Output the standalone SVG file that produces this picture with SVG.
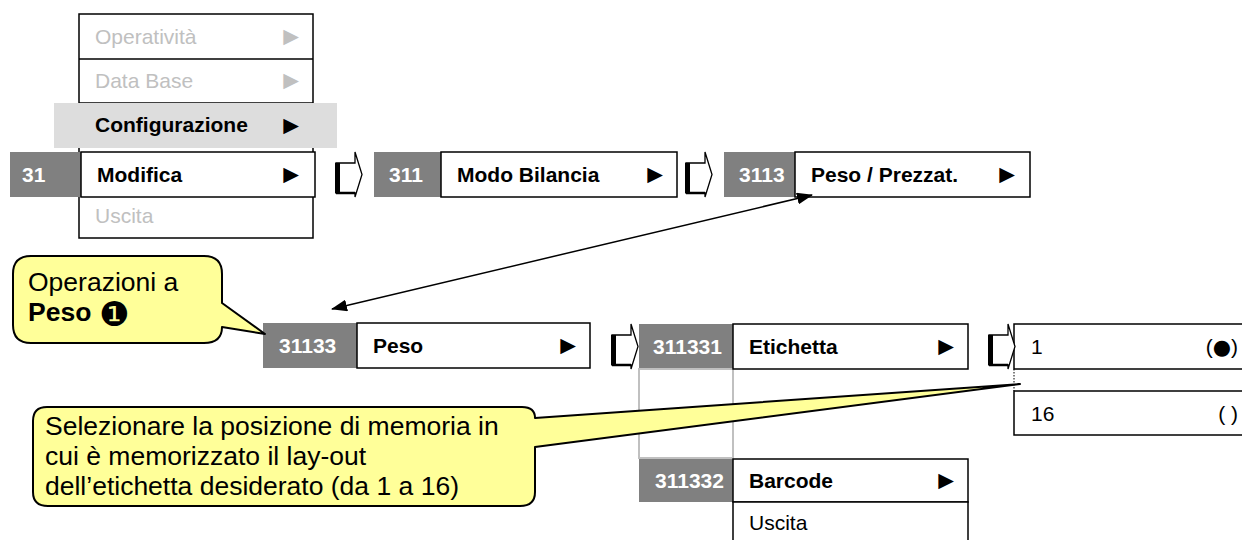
<svg xmlns="http://www.w3.org/2000/svg" width="1242" height="540" viewBox="0 0 1242 540">
<style>
text{font-family:"Liberation Sans",Arial,"DejaVu Sans",sans-serif;}
.num{font-size:21px;font-weight:bold;fill:#fff}
.lbl{font-size:21px;font-weight:bold;fill:#000}
.dis{font-size:21px;fill:#c0c0c0}
.reg{font-size:21px;fill:#000}
.tri{font-size:26px;text-anchor:end;fill:#000}
.tri.d{fill:#c0c0c0}
.box{fill:#fff;stroke:#000;stroke-width:1.5}
.grey{fill:#808080}
.callout{fill:#ffff99;stroke:#000;stroke-width:2;stroke-linejoin:round}
.ctext{font-size:26.5px;fill:#000}
.barr{fill:#fff;stroke:#000;stroke-width:1.3;stroke-linejoin:miter}
</style>
<defs>
<marker id="ah" viewBox="0 0 16 12" refX="15" refY="6" markerWidth="16" markerHeight="12" markerUnits="userSpaceOnUse" orient="auto-start-reverse">
<path d="M0,0 L16,6 L0,12 Z" fill="#000"/>
</marker>
<g id="blockArrow">
<path class="barr" d="M0,11 H19 V0 L26,22.5 L19,45 V41 H0 Z"/>
<rect x="-1" y="11" width="5" height="30" fill="#000"/>
<line x1="0" y1="41" x2="19" y2="41" stroke="#000" stroke-width="2.5"/>
</g>
</defs>
<rect width="1242" height="540" fill="#fff"/>

<g id="menu-main">
<rect class="box" x="79" y="14" width="234" height="224"/>
<line x1="79" y1="59" x2="313" y2="59" stroke="#000" stroke-width="1.5"/>
<line x1="79" y1="103" x2="313" y2="103" stroke="#000" stroke-width="1.5"/>
<text class="dis" x="95" y="44">Operatività</text>
<text class="tri d" x="304" y="45">►</text>
<text class="dis" x="95" y="88">Data Base</text>
<text class="tri d" x="304" y="89">►</text>
<rect x="54" y="103" width="283" height="45" fill="#dddddd"/>
<text class="lbl" x="95" y="132">Configurazione</text>
<text class="tri" x="304" y="134">►</text>
<text class="dis" x="95" y="223">Uscita</text>
</g>

<g id="node-31">
<rect class="grey" x="10" y="152" width="71" height="45"/>
<text class="num" x="22" y="182">31</text>
<rect class="box" x="81" y="152" width="234" height="45"/>
<text class="lbl" x="97" y="182">Modifica</text>
<text class="tri" x="304" y="183">►</text>
</g>

<g id="node-311">
<rect class="grey" x="374" y="152" width="67" height="45"/>
<text class="num" x="389" y="182">311</text>
<rect class="box" x="441" y="152" width="236" height="45"/>
<text class="lbl" x="457" y="182">Modo Bilancia</text>
<text class="tri" x="668" y="183">►</text>
</g>

<g id="node-3113">
<rect class="grey" x="724" y="152" width="71" height="45"/>
<text class="num" x="739" y="182">3113</text>
<rect class="box" x="795" y="152" width="235" height="45"/>
<text class="lbl" x="811" y="182">Peso / Prezzat.</text>
<text class="tri" x="1020" y="183">►</text>
</g>

<g id="node-31133">
<rect class="grey" x="263" y="323" width="94" height="45"/>
<text class="num" x="279" y="353">31133</text>
<rect class="box" x="357" y="323" width="233" height="45"/>
<text class="lbl" x="373" y="353">Peso</text>
<text class="tri" x="581" y="354">►</text>
</g>

<g id="node-311331">
<rect class="grey" x="639" y="324" width="94" height="45"/>
<text class="num" x="653" y="354">311331</text>
<rect x="639" y="369" width="94" height="89" fill="#fff" stroke="#c0c0c0" stroke-width="2"/>
<rect class="box" x="733" y="324" width="235" height="45"/>
<text class="lbl" x="749" y="354">Etichetta</text>
<text class="tri" x="959" y="355">►</text>
</g>

<g id="node-311332">
<rect class="grey" x="639" y="459" width="94" height="43"/>
<text class="num" x="655" y="488">311332</text>
<rect class="box" x="733" y="459" width="235" height="43"/>
<text class="lbl" x="749" y="488">Barcode</text>
<text class="tri" x="959" y="489">►</text>
<rect class="box" x="733" y="502" width="235" height="45"/>
<text class="reg" x="749" y="530">Uscita</text>
</g>

<g id="node-options">
<rect class="box" x="1014" y="324" width="240" height="45"/>
<text class="reg" x="1031" y="354">1</text>
<text class="reg" x="1238" y="354" text-anchor="end">(<tspan font-family="DejaVu Sans">●</tspan>)</text>
<line x1="1014" y1="369" x2="1014" y2="391" stroke="#000" stroke-width="1" stroke-dasharray="1.5,1.5"/>
<rect class="box" x="1014" y="391" width="240" height="44"/>
<text class="reg" x="1031" y="421">16</text>
<text class="reg" x="1238" y="421" text-anchor="end">( )</text>
</g>

<g id="callout-peso">
<path class="callout" d="M31,256 H204 Q222,256 222,274 V303 L265,334 L222,327 Q222,343 204,343 H31 Q13,343 13,325 V274 Q13,256 31,256 Z"/>
<text class="ctext" x="28" y="291">Operazioni a</text>
<text class="ctext" x="28" y="321"><tspan font-weight="bold">Peso</tspan> <tspan x="99" y="326" font-family="DejaVu Sans" font-size="34">❶</tspan></text>
</g>

<g id="callout-memoria">
<path class="callout" d="M47,407 H522 Q535,407 535,418 L1020,384 L535,447 V492 Q535,506 520,506 H48 Q33,506 33,492 V421 Q33,407 47,407 Z"/>
<text class="ctext" x="45" y="435">Selezionare la posizione di memoria in</text>
<text class="ctext" x="45" y="465">cui è memorizzato il lay-out</text>
<text class="ctext" x="45" y="495">dell’etichetta desiderato (da 1 a 16)</text>
</g>

<g id="connectors">
<use href="#blockArrow" x="336" y="152"/>
<use href="#blockArrow" x="686" y="152"/>
<use href="#blockArrow" x="612" y="324"/>
<use href="#blockArrow" x="989" y="324"/>
<line x1="812" y1="195" x2="332" y2="309" stroke="#000" stroke-width="1.5" marker-start="url(#ah)" marker-end="url(#ah)"/>
</g>
</svg>
